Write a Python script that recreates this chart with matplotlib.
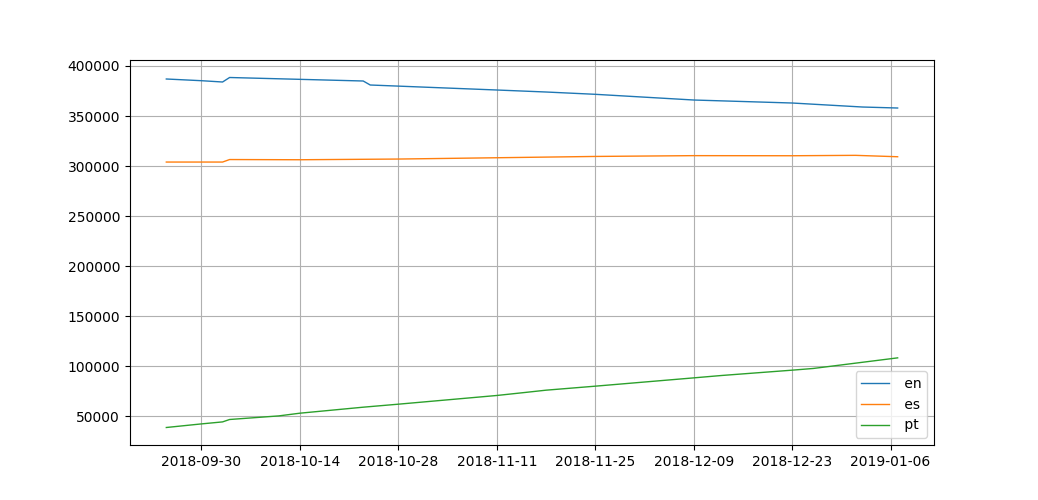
import numpy as np
import pandas as pd
import matplotlib
matplotlib.use("Agg")
from matplotlib import pyplot as plt
import matplotlib.dates as mdates

# values at the visible kinks
en_dates = ["2018-09-25", "2018-09-30", "2018-10-03", "2018-10-04", "2018-10-23",
            "2018-10-24", "2018-11-11", "2018-11-18", "2018-11-25", "2018-12-09",
            "2018-12-23", "2019-01-02", "2019-01-07"]
en_values = [387000, 385300, 384000, 388500, 385000,
             381000, 376000, 374000, 371700, 366000,
             363000, 359000, 358000]

es_dates = ["2018-09-25", "2018-10-03", "2018-10-04", "2018-10-14", "2018-10-28",
            "2018-11-11", "2018-11-25", "2018-12-09", "2018-12-23", "2019-01-01",
            "2019-01-07"]
es_values = [304000, 304000, 306500, 306300, 307000,
             308300, 309600, 310400, 310300, 310700,
             309300]

pt_dates = ["2018-09-25", "2018-09-30", "2018-10-03", "2018-10-04", "2018-10-11",
            "2018-10-14", "2018-10-23", "2018-10-28", "2018-11-11", "2018-11-15",
            "2018-11-18", "2018-11-25", "2018-12-09", "2018-12-13", "2018-12-23",
            "2018-12-26", "2019-01-07"]
pt_values = [38700, 42300, 44300, 46700, 50300,
             53000, 59000, 62000, 70700, 73700,
             76000, 80000, 88300, 90700, 96000,
             97700, 108300]

tick_dates = ["2018-09-30", "2018-10-14", "2018-10-28", "2018-11-11",
              "2018-11-25", "2018-12-09", "2018-12-23", "2019-01-06"]

fig, ax = plt.subplots(figsize=(10.38, 5), dpi=100)
ax.plot(pd.to_datetime(en_dates), en_values, linewidth=1, label=" en")
ax.plot(pd.to_datetime(es_dates), es_values, linewidth=1, label=" es")
ax.plot(pd.to_datetime(pt_dates), pt_values, linewidth=1, label=" pt")

ax.set_xticks(pd.to_datetime(tick_dates))
ax.xaxis.set_major_formatter(mdates.DateFormatter("%Y-%m-%d"))
ax.grid(True)
ax.legend(loc="lower right")

fig.savefig("out.png")
